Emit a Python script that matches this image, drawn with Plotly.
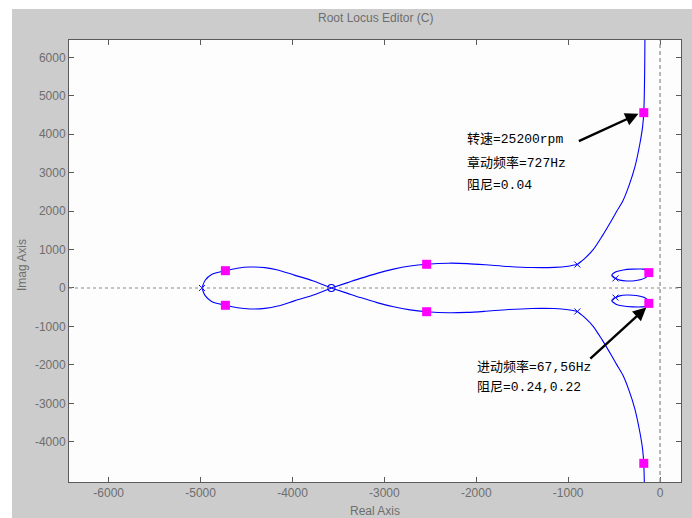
import plotly.graph_objects as go

# ---- root locus branches (upper half-plane; lower half is the complex conjugate) ----
left_lobe_re = [-4985, -4950, -4880, -4730, -4600, -4460, -4300, -4160, -3980, -3780, -3577]
left_lobe_im = [0, 200, 350, 450, 515, 545, 530, 470, 335, 190, 0]

right_lobe_re = [-3577, -3400, -3260, -3080, -2900, -2720, -2540, -2300, -2100, -1900,
                 -1650, -1400, -1150, -1000, -900]
right_lobe_im = [0, 140, 250, 380, 490, 570, 617, 645, 635, 605, 560, 532, 535, 565, 610]

hf_re = [-900, -810, -730, -630, -525, -470, -405, -340, -275, -220, -190, -177, -170, -166, -164]
hf_im = [610, 790, 990, 1350, 1770, 2000, 2265, 2650, 3135, 3745, 4190, 4560, 5200, 6000, 6700]

loop_re = [-122, -140, -200, -300, -400, -480, -525, -505, -485, -440, -360, -260, -170, -130, -122]
loop_im = [408, 470, 492, 490, 470, 420, 330, 270, 250, 205, 182, 195, 250, 330, 408]

# open-loop poles / zeros and current closed-loop poles
pole_re = [-4985, -900, -900, -485, -485]
pole_im = [0, 610, -610, 250, -250]
zero_re = [-3577]
zero_im = [0]
cl_re = [-4730, -2540, -177, -122]
cl_im = [450, 617, 4560, 400]

# axis ticks
xticks = [-6000, -5000, -4000, -3000, -2000, -1000, 0]
yticks = [-4000, -3000, -2000, -1000, 0, 1000, 2000, 3000, 4000, 5000, 6000]

# annotation texts
note1 = ["转速=25200rpm", "章动频率=727Hz", "阻尼=0.04"]
note2 = ["进动频率=67,56Hz", "阻尼=0.24,0.22"]

BLUE = "#0000ff"
PINK = "#ff00ff"
GRAY_TXT = "#6e6e6e"

fig = go.Figure()

branches = [(left_lobe_re, left_lobe_im), (right_lobe_re, right_lobe_im),
            (hf_re, hf_im), (loop_re, loop_im)]
for re, im in branches:
    for sgn in (1, -1):
        fig.add_trace(go.Scatter(
            x=re, y=[sgn * v for v in im], mode="lines",
            line=dict(color=BLUE, width=1.1, shape="spline", smoothing=0.8),
            hoverinfo="skip", showlegend=False))

fig.add_trace(go.Scatter(x=pole_re, y=pole_im, mode="markers",
                         marker=dict(symbol="x-thin-open", size=6, color=BLUE,
                                     line=dict(color=BLUE, width=1)),
                         showlegend=False))
fig.add_trace(go.Scatter(x=zero_re, y=zero_im, mode="markers",
                         marker=dict(symbol="circle-open", size=7, color=BLUE,
                                     line=dict(color=BLUE, width=1.2)),
                         showlegend=False))
fig.add_trace(go.Scatter(x=cl_re + cl_re, y=cl_im + [-v for v in cl_im], mode="markers",
                         marker=dict(symbol="square", size=9, color=PINK),
                         showlegend=False))

# reference lines through the origin
fig.add_shape(type="line", xref="x", yref="paper", x0=0, x1=0, y0=0, y1=1,
              line=dict(color="#8a8a8a", width=1.2, dash="4px,3px"))
fig.add_shape(type="line", xref="paper", yref="y", x0=0, x1=1, y0=0, y1=0,
              line=dict(color="#8a8a8a", width=1.2, dash="3px,3px"))

# white page margin left and top of the grey figure panel
W, H = 692, 518
L, R, T, B = 69, 11, 40, 36
pw, ph = W - L - R, H - T - B
fig.add_shape(type="rect", xref="paper", yref="paper", layer="below",
              x0=-L / pw, x1=(12 - L) / pw, y0=-B / ph - 0.01, y1=(H - B) / ph + 0.01,
              fillcolor="white", line=dict(width=0))
fig.add_shape(type="rect", xref="paper", yref="paper", layer="below",
              x0=-L / pw, x1=(W - L) / pw + 0.01, y0=(H - B - 9) / ph, y1=(H - B) / ph + 0.01,
              fillcolor="white", line=dict(width=0))

txt_font = dict(family="Liberation Mono, Noto Sans CJK SC", size=13, color="black")
for text, yv in zip(note1, [3850, 3250, 2660]):
    fig.add_annotation(x=-2120, y=yv, text=text, showarrow=False, xanchor="left",
                       yanchor="middle", font=txt_font)
for text, yv in zip(note2, [-2055, -2600]):
    fig.add_annotation(x=-2010, y=yv, text=text, showarrow=False, xanchor="left",
                       yanchor="middle", font=txt_font)

# arrows pointing at the marked closed-loop poles
fig.add_annotation(x=-235, y=4530, ax=-900, ay=3800, axref="x", ayref="y",
                   text="", showarrow=True, arrowhead=2, arrowsize=1.1,
                   arrowwidth=2.4, arrowcolor="black", standoff=0)
fig.add_annotation(x=-150, y=-510, ax=-775, ay=-1870, axref="x", ayref="y",
                   text="", showarrow=True, arrowhead=2, arrowsize=1.1,
                   arrowwidth=2.4, arrowcolor="black", standoff=0)

lab_font = dict(family="Liberation Sans, Arial", size=12, color=GRAY_TXT)
fig.add_annotation(xref="paper", yref="paper", x=(375 - L) / pw, y=1 + (T - 18) / ph,
                   text="Root Locus Editor (C)", showarrow=False, font=lab_font,
                   xanchor="center", yanchor="middle")
fig.add_annotation(xref="paper", yref="paper", x=(375 - L) / pw, y=-(511 - (H - B)) / ph,
                   text="Real Axis", showarrow=False, font=lab_font,
                   xanchor="center", yanchor="middle")
fig.add_annotation(xref="paper", yref="paper", x=(22 - L) / pw, y=(H - B - 265) / ph,
                   text="Imag Axis", showarrow=False, font=lab_font, textangle=-90,
                   xanchor="center", yanchor="middle")

axis_common = dict(showgrid=False, zeroline=False, showline=True, linecolor="#5a5a5a",
                   linewidth=1, mirror="ticks", ticks="inside", ticklen=5,
                   tickcolor="#5a5a5a", tickfont=lab_font)
fig.update_xaxes(range=[-6432, 228], tickvals=xticks, ticktext=[str(v) for v in xticks],
                 **axis_common)
fig.update_yaxes(range=[-5046, 6450], tickvals=yticks, ticktext=[str(v) for v in yticks],
                 **axis_common)

fig.update_layout(width=W, height=H, margin=dict(l=L, r=R, t=T, b=B, pad=0),
                  paper_bgcolor="#cccccc", plot_bgcolor="#fdfdfd", showlegend=False)

fig.write_html("out.html")
